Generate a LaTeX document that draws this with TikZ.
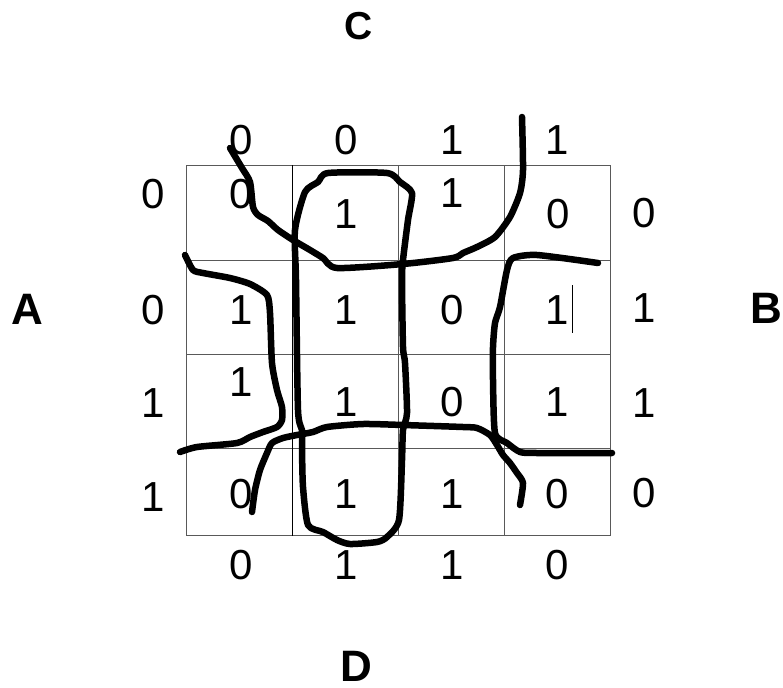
\documentclass[tikz,border=0pt]{standalone}
\usepackage{fontspec}
\setmainfont{Liberation Sans}
\begin{document}
\begin{tikzpicture}[x=1pt,y=-1pt,
  dig/.style={inner sep=0pt, font=\fontsize{42}{48}\selectfont},
  lab/.style={inner sep=0pt, font=\fontsize{44}{50}\selectfont\bfseries},
  gridline/.style={draw=black!65, line width=1pt},
  hand/.style={line width=6.5pt, line join=round, line cap=round}]
\useasboundingbox (0,0) rectangle (783,687);
% grid
\draw[gridline] (186,165) rectangle (610,535.7);
\draw[gridline] (186,260) -- (610,260);
\draw[gridline] (186,354) -- (610,354);
\draw[gridline] (186,448.5) -- (610,448.5);
\draw[gridline, draw=black] (292.5,165) -- (292.5,535.7);
\draw[gridline] (398.5,165) -- (398.5,535.7);
\draw[gridline] (504,165) -- (504,535.7);
% variable names
\node[lab] (A) at (27.5,309) {A};
\node[lab] (B) at (766,308) {B};
\node[lab, font=\fontsize{39}{45}\selectfont\bfseries] (C) at (359,26) {C};
\node[lab] (D) at (356,666) {D};
% top labels
\node[dig] (t1) at (241,140) {0};
\node[dig] (t2) at (346,140) {0};
\node[dig] (t3) at (452,140) {1};
\node[dig] (t4) at (557,140) {1};
% bottom labels
\node[dig] (b1) at (241,565) {0};
\node[dig] (b2) at (346,565) {1};
\node[dig] (b3) at (452,565) {1};
\node[dig] (b4) at (557,565) {0};
% left labels
\node[dig] (l1) at (153.5,194) {0};
\node[dig] (l2) at (153.5,310) {0};
\node[dig] (l3) at (153.5,403) {1};
\node[dig] (l4) at (153.5,497) {1};
% right labels
\node[dig] (r1) at (644,213) {0};
\node[dig] (r2) at (644,308) {1};
\node[dig] (r3) at (644,403) {1};
\node[dig] (r4) at (644,493) {0};
% cells
\node[dig] (c11) at (241,194) {0};
\node[dig] (c12) at (346,214) {1};
\node[dig] (c13) at (452,193) {1};
\node[dig] (c14) at (558,214) {0};
\node[dig] (c21) at (241,310) {1};
\node[dig] (c22) at (346,310) {1};
\node[dig] (c23) at (452.5,310) {0};
\node[dig] (c24) at (557,310) {1};
\node[dig] (c31) at (241,382) {1};
\node[dig] (c32) at (346,402) {1};
\node[dig] (c33) at (452.5,402) {0};
\node[dig] (c34) at (557,402) {1};
\node[dig] (c41) at (241,494) {0};
\node[dig] (c42) at (346,494) {1};
\node[dig] (c43) at (452,494) {1};
\node[dig] (c44) at (557.5,494) {0};
% cursor bar
\draw[line width=1pt] (572,285) -- (572,333);
% hand-drawn groupings
\draw[hand] plot[smooth, tension=0.4] coordinates {(230,148) (242,168) (250,182) (253,207) (258,215) (268,221) (278,230) (293,240) (310,250) (323,258) (337,268) (403,264) (453,258) (463,253) (477,247) (495,237) (510,217) (520,193) (523,170) (522,117)};
\draw[hand] plot[smooth cycle, tension=0.4] coordinates {(295,230) (305,192) (318,182) (328,173) (387,173) (400,182) (412,193) (408,220) (403,260) (402,280) (403,347) (405,363) (407,413) (403,430) (402,460) (399,520) (387,537) (377,542) (350,544) (337,540) (323,532) (308,525) (303,487) (302,447) (302,430) (298,410) (296,280)};
\draw[hand] plot[smooth, tension=0.4] coordinates {(185,255) (193,270) (203,273) (230,278) (250,284) (267,295) (270,313) (272,363) (277,390) (282,407) (282,420) (277,427) (263,432) (250,437) (237,443) (197,447) (180,452)};
\draw[hand] plot[smooth, tension=0.4] coordinates {(252,512) (255,490) (260,470) (267,453) (272,443) (283,438) (297,435) (313,432) (327,427) (363,424) (403,425) (463,427) (477,428) (490,435) (497,445) (503,455) (510,463) (517,473) (523,483) (520,505)};
\draw[hand] plot[smooth, tension=0.4] coordinates {(598,263) (537,255) (513,258) (507,270) (500,307) (495,323) (493,347) (493,380) (495,433) (507,443) (520,452) (537,453) (612,453)};
\end{tikzpicture}
\end{document}
